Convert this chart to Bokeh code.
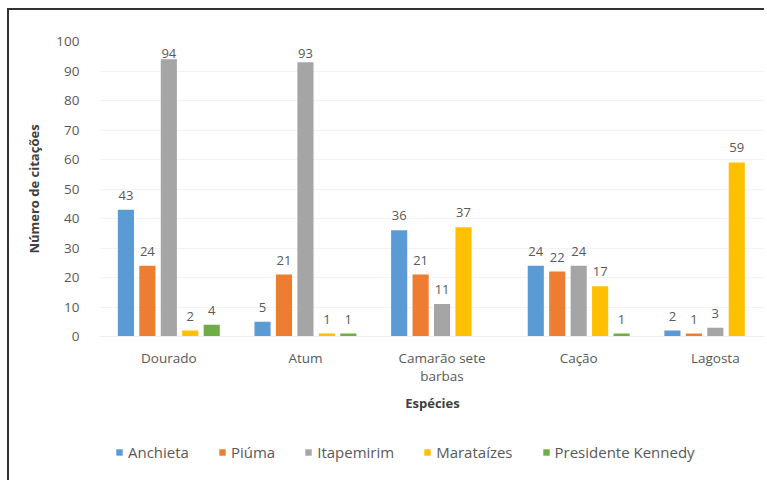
import numpy as np
from bokeh.plotting import figure
from bokeh.layouts import column
from bokeh.models import ColumnDataSource, Range1d, FixedTicker, Legend, LegendItem
from bokeh.transform import dodge
from bokeh.core.properties import value
from bokeh.embed import file_html
from bokeh.resources import INLINE

categories = ["Dourado", "Atum", "Camarão sete\nbarbas", "Cação", "Lagosta"]
series_names = ["Anchieta", "Piúma", "Itapemirim", "Marataízes", "Presidente Kennedy"]
anchieta = [43, 5, 36, 24, 2]
piuma = [24, 21, 21, 22, 1]
itapemirim = [94, 93, 11, 24, 3]
marataizes = [2, 1, 37, 17, 59]
presidente_kennedy = [4, 1, None, 1, None]
y_ticks = [0, 10, 20, 30, 40, 50, 60, 70, 80, 90, 100]

colors = ["#5B9BD5", "#ED7D31", "#A5A5A5", "#FFC000", "#70AD47"]
series_values = [anchieta, piuma, itapemirim, marataizes, presidente_kennedy]

FONT = "Open Sans"
TXT = "#595959"
LABEL_GAP = 3.4     # data units between bar top and its label
LABEL_CAP = 94.4    # labels kept inside the plot area

x_idx = list(range(len(categories)))
data = {"x": x_idx}
for i, vals in enumerate(series_values):
    data[f"s{i}"] = [np.nan if v is None else v for v in vals]
    data[f"y{i}"] = [np.nan if v is None else min(v + LABEL_GAP, LABEL_CAP) for v in vals]
    data[f"l{i}"] = ["" if v is None else str(v) for v in vals]
source = ColumnDataSource(data)

p = figure(width=755, height=410, output_backend="svg", toolbar_location=None,
           x_range=Range1d(-0.5, 4.36), y_range=Range1d(0, 100),
           min_border_left=91, min_border_top=31, min_border_right=0,
           min_border_bottom=84)
p.outline_line_color = None
p.background_fill_color = "white"
p.border_fill_color = "white"

offsets = [-0.314, -0.157, 0.0, 0.157, 0.314]
width = 0.118
for i in range(5):
    p.vbar(x=dodge("x", offsets[i], range=p.x_range), top=f"s{i}", width=width,
           source=source, fill_color=colors[i], line_color=None)
    p.text(x=dodge("x", offsets[i], range=p.x_range), y=f"y{i}", text=f"l{i}",
           source=source, text_align="center", text_baseline="bottom",
           text_font=value(FONT), text_font_size="13px", text_color=TXT)

p.xgrid.grid_line_color = None
p.ygrid.grid_line_color = "#f3f3f3"
p.yaxis.ticker = FixedTicker(ticks=y_ticks)
p.xaxis.ticker = FixedTicker(ticks=x_idx)
p.xaxis.major_label_overrides = {i: c for i, c in enumerate(categories)}

for ax in (p.xaxis[0], p.yaxis[0]):
    ax.major_tick_line_color = None
    ax.minor_tick_line_color = None
    ax.major_label_text_font = FONT
    ax.major_label_text_font_size = "13.5px"
    ax.major_label_text_color = TXT
    ax.axis_label_text_font = FONT
    ax.axis_label_text_font_size = "13px"
    ax.axis_label_text_font_style = "bold"
    ax.axis_label_text_color = "#404040"

p.yaxis.axis_line_color = None
p.yaxis.major_label_standoff = 15
p.yaxis.axis_label = "Número de citações"
p.yaxis.axis_label_standoff = 10
p.xaxis.axis_line_color = "#ececec"
p.xaxis.major_label_standoff = 6
p.xaxis.major_label_text_line_height = 1.0
p.xaxis.axis_label = "Espécies"
p.xaxis.axis_label_standoff = 6

# legend in its own strip below the chart (its frame is aligned with the chart's frame)
lg = figure(width=755, height=60, output_backend="svg", toolbar_location=None,
            x_axis_type=None, y_axis_type=None, x_range=Range1d(0, 1), y_range=Range1d(0, 1),
            min_border_left=91, min_border_right=0, min_border_top=0, min_border_bottom=0)
lg.outline_line_color = None
lg.grid.grid_line_color = None
items = []
for i in range(5):
    r = lg.quad(left=[-5], right=[-4], bottom=[0], top=[1], fill_color=colors[i], line_color=None)
    items.append(LegendItem(label=series_names[i], renderers=[r]))
legend = Legend(items=items, orientation="horizontal", location=(15, 18),
                glyph_width=8, glyph_height=8, label_standoff=5, spacing=29,
                label_text_font=FONT, label_text_font_size="15px", label_text_color=TXT,
                border_line_color=None, background_fill_alpha=0, margin=0, padding=0)
lg.add_layout(legend, "center")

layout = column(p, lg, spacing=0,
                styles={"margin-left": "7px", "margin-top": "8px",
                        "border-left": "2px solid #333333", "border-top": "2px solid #333333"})

open("out.html", "w").write(file_html(layout, INLINE))
